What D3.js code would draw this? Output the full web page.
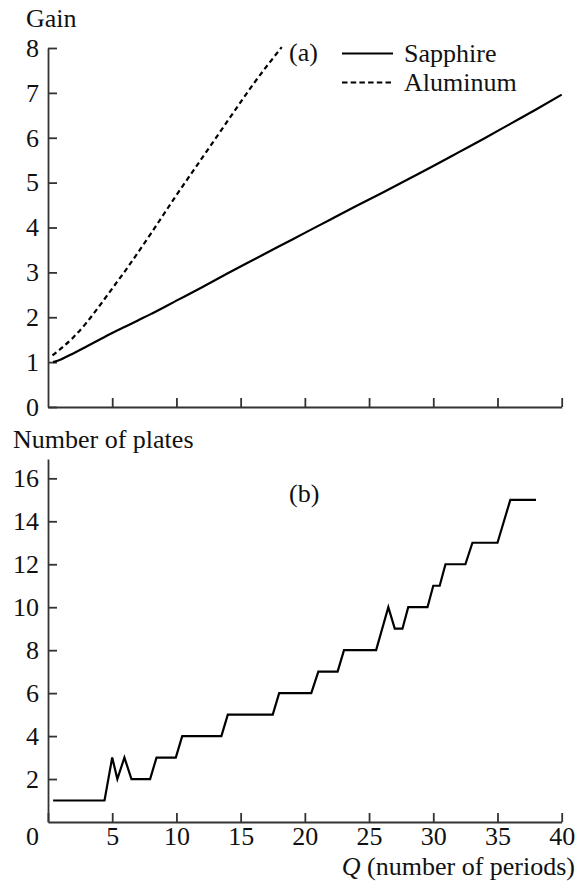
<!DOCTYPE html>
<html>
<head>
<meta charset="utf-8">
<script src="https://cdn.jsdelivr.net/npm/d3@7"></script>
<style>
    body { margin: 0; background: #fff; }
    svg text { font-family: 'Liberation Serif', 'DejaVu Serif', 'Times New Roman', Times, serif; fill: #111; }
</style>
</head>
<body>
<svg id="chart" width="579" height="884"></svg>
<script>
// panel (a): gain vs Q
var sapphireQ = [0.4, 1, 2, 3, 4, 5, 6, 7, 8, 10, 12, 14, 16, 18, 20, 22, 24, 26, 28, 30, 32, 34, 36, 38, 40];
var sapphireGain = [1.0, 1.06, 1.2, 1.35, 1.5, 1.65, 1.79, 1.93, 2.07, 2.37, 2.67, 2.98, 3.28, 3.58, 3.88, 4.18, 4.48, 4.77, 5.07, 5.37, 5.68, 5.99, 6.31, 6.63, 6.96];
var aluminumQ = [0.35, 1, 2, 3, 4, 5, 6, 8, 10, 12, 14, 16, 18.2];
var aluminumGain = [1.15, 1.3, 1.56, 1.88, 2.25, 2.64, 3.03, 3.86, 4.72, 5.55, 6.38, 7.2, 8.02];

// panel (b): number of plates vs Q
var platesQ = [0.4, 4.4, 5.0, 5.4, 5.95, 6.5, 7.95, 8.45, 9.95, 10.45, 13.5, 14.0, 17.5, 18.0, 20.5, 21.05, 22.55, 23.05,
               25.55, 26.5, 27.0, 27.6, 28.05, 29.55, 30.0, 30.5, 30.95, 32.5, 33.05, 35.0, 36.0, 38.0];
var platesN = [1, 1, 3, 2, 3, 2, 2, 3, 3, 4, 4, 5, 5, 6, 6, 7, 7, 8,
               8, 10, 9, 9, 10, 10, 11, 11, 12, 12, 13, 13, 15, 15];

var qTicks = [0, 5, 10, 15, 20, 25, 30, 35, 40];
var gainTicks = [0, 1, 2, 3, 4, 5, 6, 7, 8];
var plateTicks = [2, 4, 6, 8, 10, 12, 14, 16];

var style = {
    left: 48,
    right: 561.7,
    font: 26,
    tick: 9,
    axisColor: "#333",
    lineColor: "#000"
};

var serif = "'Liberation Serif', 'DejaVu Serif', 'Times New Roman', Times, serif";

var svg = d3.select("#chart");

var x = d3.scaleLinear().domain([0, 40]).range([style.left, style.right]);
var yGain = d3.scaleLinear().domain([0, 8]).range([407, 48]);
var yPlates = d3.scaleLinear().domain([0, 16.9]).range([822, 459]);

function zip(a, b) {
    return a.map(function(d, i) { return [d, b[i]]; });
}

function styleAxis(g) {
    g.attr("font-family", serif);
    g.selectAll("path, line").attr("stroke", style.axisColor).attr("stroke-width", 1.8);
    g.selectAll("text")
        .style("font-family", serif)
        .attr("font-size", style.font)
        .attr("fill", "#111");
}

// ---- panel (a)
var topX = svg.append("g")
    .attr("transform", "translate(0," + yGain(0) + ")")
    .call(d3.axisBottom(x).tickValues(qTicks.slice(1)).tickFormat("")
        .tickSizeInner(-style.tick).tickSizeOuter(0));
styleAxis(topX);

var topY = svg.append("g")
    .attr("transform", "translate(" + style.left + ",0)")
    .call(d3.axisLeft(yGain).tickValues(gainTicks).tickFormat(d3.format("d"))
        .tickSizeInner(-style.tick).tickSizeOuter(0).tickPadding(9));
styleAxis(topY);

var gainLine = d3.line()
    .x(function(d) { return x(d[0]); })
    .y(function(d) { return yGain(d[1]); })
    .curve(d3.curveMonotoneX);

svg.append("path")
    .datum(zip(sapphireQ, sapphireGain))
    .attr("d", gainLine)
    .attr("fill", "none")
    .attr("stroke", style.lineColor)
    .attr("stroke-width", 2.2);

svg.append("path")
    .datum(zip(aluminumQ, aluminumGain))
    .attr("d", gainLine)
    .attr("fill", "none")
    .attr("stroke", style.lineColor)
    .attr("stroke-width", 2.2)
    .attr("stroke-dasharray", "5,3.5");

function label(px, py, txt) {
    return svg.append("text").attr("x", px).attr("y", py)
        .style("font-family", serif).attr("font-size", style.font).text(txt);
}

label(26, 27, "Gain");
label(289, 61, "(a)");

// legend
var legend = svg.append("g").attr("transform", "translate(342,0)");
legend.append("line").attr("x1", 0).attr("x2", 51).attr("y1", 53.5).attr("y2", 53.5)
    .attr("stroke", style.lineColor).attr("stroke-width", 2);
legend.append("line").attr("x1", 0).attr("x2", 51).attr("y1", 82.5).attr("y2", 82.5)
    .attr("stroke", style.lineColor).attr("stroke-width", 2).attr("stroke-dasharray", "5.5,3.2");
label(404, 62, "Sapphire");
label(404, 91, "Aluminum");

// ---- panel (b)
var botX = svg.append("g")
    .attr("transform", "translate(0," + yPlates(0) + ")")
    .call(d3.axisBottom(x).tickValues(qTicks).tickFormat(d3.format("d"))
        .tickSizeInner(-style.tick).tickSizeOuter(0).tickPadding(5));
styleAxis(botX);
botX.selectAll(".tick").filter(function(d) { return d === 0; })
    .select("text").attr("x", -16);

var botY = svg.append("g")
    .attr("transform", "translate(" + style.left + ",0)")
    .call(d3.axisLeft(yPlates).tickValues(plateTicks).tickFormat(d3.format("d"))
        .tickSizeInner(-style.tick).tickSizeOuter(0).tickPadding(9));
styleAxis(botY);

var plateLine = d3.line()
    .x(function(d) { return x(d[0]); })
    .y(function(d) { return yPlates(d[1]); });

svg.append("path")
    .datum(zip(platesQ, platesN))
    .attr("d", plateLine)
    .attr("fill", "none")
    .attr("stroke", style.lineColor)
    .attr("stroke-width", 2.2)
    .attr("stroke-linejoin", "miter");

label(13, 448, "Number of plates");
label(289, 502, "(b)");

var xTitle = label(575, 875, "").attr("text-anchor", "end");
xTitle.append("tspan").attr("font-style", "italic").text("Q");
xTitle.append("tspan").text(" (number of periods)");
</script>
</body>
</html>
